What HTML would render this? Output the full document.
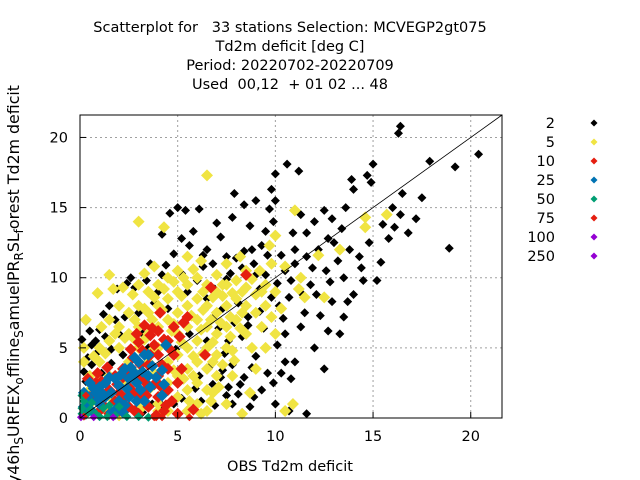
<!DOCTYPE html>
<html><head><meta charset="utf-8"><style>
html,body{margin:0;padding:0;background:#fff;}
svg{display:block;font-family:"DejaVu Sans","Liberation Sans",sans-serif;}
</style></head><body>
<svg id="chart" width="640" height="480" viewBox="0 0 640 480">
<g font-size="14.5" text-anchor="middle" fill="#000" style="white-space:pre">
<text x="290" y="32" xml:space="preserve">Scatterplot for   33 stations Selection: MCVEGP2gt075</text>
<text x="290" y="51">Td2m deficit [deg C]</text>
<text x="290" y="70">Period: 20220702-20220709</text>
<text x="290" y="89" xml:space="preserve">Used  00,12  + 01 02 ... 48</text>
</g>
<g id="grid"></g>
<g id="points"></g>
<g id="axes"></g>
<text x="290" y="471" font-size="14.5" text-anchor="middle">OBS Td2m deficit</text>
<text transform="translate(19,85) rotate(-90)" font-size="15.8" text-anchor="end">y46h<tspan font-size="12" dy="4">S</tspan><tspan dy="-4">URFEX</tspan><tspan font-size="12" dy="4">o</tspan><tspan dy="-4">ffline</tspan><tspan font-size="12" dy="4">S</tspan><tspan dy="-4">amuelPR</tspan><tspan font-size="12" dy="4">R</tspan><tspan dy="-4">SL</tspan><tspan font-size="12" dy="4">f</tspan><tspan dy="-4">orest Td2m deficit</tspan></text>
<g id="legend"></g>
</svg>
<script>
const xTicks=[0,5,10,15,20];
const yTicks=[0,5,10,15,20];
const seriesLabels=["2","5","10","25","50","75","100","250"];
const seriesColors=["#000000","#f0e442","#e51e10","#0072b2","#009e73","#e51e10","#9400d3","#9400d3"];
const s2=[[16.4,20.8],[16.3,20.3],[20.4,18.8],[17.9,18.3],[19.2,17.9],[18.9,12.1],[15.2,9.8],[16,15],[16.5,16],[14.9,16.8],[14.7,17.3],[15,18.1],[13.9,17],[14,16.3],[13.6,15],[12.5,14.8],[12,14],[12.9,14.2],[13.4,13.5],[13,12.5],[12.2,12],[11.6,11.5],[11,11],[10.5,10.5],[10,17.4],[10.6,18.1],[11.2,17.6],[9.8,16.3],[10,15.5],[9.7,14.9],[9,15.5],[8.4,15.2],[7.9,16],[7.8,14.3],[9.9,14],[11.3,14.5],[11.6,13.2],[10.9,13.2],[11,12],[10.3,11.6],[9.3,12.3],[8.8,12],[8.4,11.9],[7.2,12.9],[7,13.9],[6.1,14.9],[5.4,14.8],[5,15],[4.6,14.6],[4.2,13.1],[5.6,12.3],[7.5,11.5],[8,11.4],[6.8,11],[6.3,10.8],[5.5,11.5],[4.8,11.7],[4.4,10.9],[3.4,9.8],[2.6,10],[2.4,9.6],[2.8,9.3],[1.9,9.2],[1.5,8],[1.2,7.4],[1.8,7],[2.3,7.2],[1,6.3],[0.8,5.5],[0.6,5.2],[0.3,6.9],[0.6,3.8],[1.6,3.9],[2.2,4.5],[3.2,6],[3.8,8.2],[4.5,7.8],[5.5,9],[6.5,8.5],[7.3,7.8],[8.1,8.2],[7.9,6.8],[8.3,5.8],[7.4,4.6],[6.6,3.6],[6.1,3],[5.9,2.1],[5.2,1.4],[6.2,1.2],[4.8,1],[7.5,1.6],[8.7,0.8],[10.7,0.5],[11.6,0.3],[10,1],[9.9,2.5],[10.5,4],[10.1,5.2],[10.4,7.1],[10.2,8],[12.3,7.3],[11.3,6.5],[11,4],[12,5],[12.5,3.5],[13.3,6],[13.7,8.3],[14.5,9.8],[14.3,11.5],[15.4,11.1],[16.8,13.2],[14,8.8],[12.8,9.7],[11.4,8.8],[9.2,9.2],[9,10.2],[8.6,7.2],[9.4,6.4],[9,4.4],[8.2,2.4],[7.2,2.9],[6.5,5.5],[5.6,6],[4.9,4.9],[3.7,1],[2.9,0.6],[3.2,0.4],[4.2,0.9],[5.5,0.4],[3,2],[0.2,3.3],[0.1,5.6],[0.4,4.3],[0.9,4.7],[1.3,5.8],[2,6],[3,7.5],[4,9],[4.5,7],[3.5,5],[7.7,10.3],[8.9,11],[12.6,10.5],[13.2,11.2],[14.8,12.5],[15.5,13.8],[16.4,14.5],[17.2,14.2],[11.8,9.5],[10.8,9.8],[9.6,11.6],[6,9.8],[6.9,9.2],[4.2,10.2],[5.2,10.3],[9.6,3.2],[8.9,1.5],[6.8,2.4],[7.8,3.8],[10.8,2.8],[12.9,8.3],[13.5,10],[11.9,10.7],[7.8,1],[8.1,1.7],[8.4,2.9],[7.6,2.2],[6.9,0.9],[7.3,3.4],[8.8,3.6],[9.3,2],[6.2,6.3],[6.8,7.1],[7.1,6.4],[7.6,5.5],[8.6,6.6],[9.2,7.6],[9.8,8.6],[10.1,9.6],[10.7,8.6],[10.5,6],[10.3,3.2],[11.5,7.5],[12.1,8.8],[12.7,12.8],[13.8,12],[9.5,13.3],[8.7,13.7],[6.5,12],[5.8,13.3],[3.6,11],[1.6,4.9],[0.5,6.2],[1.1,3.2],[0.3,2.6],[6.3,11.6],[7.5,9.9],[8.3,10.7],[9.5,10.2],[5.2,12.8],[12.7,6.2],[13.5,7.2],[14.4,10.7],[16.1,13.6],[15.8,12.8],[17.5,15.7]];
const s5=[[0.5,1],[0.5,2],[0.5,3],[0.2,4],[1,2.5],[1,4],[1,5],[1.5,3],[1.5,5.5],[1.5,7],[2,1],[2,3],[2,5],[2,6.5],[2,8],[2.5,2],[2.5,4],[2.5,6],[2.5,7.5],[3,3],[3,5],[3,6.5],[3,8],[3,9.5],[3.5,2],[3.5,4],[3.5,6],[3.5,7.5],[3.5,9],[4,1],[4,3],[4,5],[4,6.5],[4,8],[4,9.5],[4.5,0.5],[4.5,2.5],[4.5,4],[4.5,5.5],[4.5,7],[4.5,8.5],[4.5,10],[5,1.5],[5,3],[5,4.5],[5,6],[5,7.5],[5,9],[5,10.5],[5.5,0.5],[5.5,2],[5.5,3.5],[5.5,5],[5.5,6.5],[5.5,8],[5.5,9.5],[6,1],[6,2.5],[6,4],[6,5.5],[6,7],[6,8.5],[6,10],[6.5,2],[6.5,3.5],[6.5,5],[6.5,6.5],[6.5,8],[6.5,9.5],[7,3],[7,4.5],[7,6],[7,7.5],[7,9],[7,10.2],[7.5,5],[7.5,6.5],[7.5,8],[7.5,9.5],[8,7],[8,8.5],[8,9.8],[8.5,6],[8.5,8],[8.5,9.3],[8.5,10.5],[9,7.5],[9,8.8],[9,3.5],[9.5,8],[9.5,5],[9.5,9.5],[10,9],[10,6],[7.5,1],[8.3,0.3],[6.5,0.5],[3,14],[6.5,17.3],[4.3,13.6],[10,13],[11,14.8],[9.7,12.3],[12.2,11.6],[13.3,12],[14.6,14.3],[15.7,14.5],[14.6,13.6],[12.5,8.6],[10.5,10.8],[11.3,10],[0.9,8.9],[1.5,10.2],[1.7,9.2],[2.7,8.8],[3.3,10.3],[7.8,3],[8.7,1.8],[7.9,4.1],[6.7,1.2],[10.5,0.5],[10.9,1],[1.1,6.5],[0.3,7],[2.2,9.3],[3.8,10.8],[5.5,11.5],[6.2,11.2],[7.5,11],[8.2,11.5],[9.2,10.5],[9.8,11],[8.8,5],[9.3,6.5],[10.3,7.8],[11.5,8.6],[11.2,9.2],[4,0.5],[3.2,0.8],[2,0.2],[1.3,0.6],[0.3,0.5],[6.8,1.8],[5.2,8.7],[6.3,7.7],[7.3,8.7],[8.3,7.5],[4.8,6.7],[3.7,7],[2.8,5.6],[5.8,4.4],[6.8,5.4],[7.7,7.2],[0.2,5],[0.7,4.4],[1.3,4.6],[1.8,6],[2.3,5.7],[2.8,7],[3.3,7.8],[3.8,8.6],[4.3,9.2],[4.8,9.7],[5.3,10],[5.8,10.6],[6.3,9],[6.8,8.6],[7.3,9.5],[7.8,8.9],[8.3,9],[8.8,9.9],[9.3,9],[9.8,7.2],[4.2,7.7],[4.7,6.2],[5.2,5.4],[5.7,7.3],[6.2,6.3],[6.7,7],[7.2,6.8],[7.7,5.8],[8.2,6.4],[5.3,2.8],[5.8,3],[6.3,4.6],[6.8,4],[7.3,3.8],[7.8,4.8],[4.3,1.8],[4.8,3.4],[3.8,3.2],[2.2,2.4],[1.7,1.3],[3.3,5.6],[3.7,4.8],[2.7,3.4],[6.2,0.3],[7.1,2.2],[5.6,1.2]];
const s10=[[0.3,0.5],[0.5,1.5],[0.8,2.5],[1,0.5],[1.2,1.5],[1.5,0.3],[1.5,2],[1.8,3],[2,0.5],[2,1.8],[2.2,3.5],[2.5,0.8],[2.5,2.2],[2.7,4.3],[3,0.3],[3,1.5],[3,3],[3.2,4.8],[3.5,0.8],[3.5,2.2],[3.5,3.8],[3.8,5.2],[4,1.5],[4,3],[4,4.5],[4,6.2],[4.3,0.5],[4.5,2],[4.5,3.5],[4.5,5.5],[4.8,4.5],[4.8,6.5],[5,2.5],[5,0.3],[5.3,6.8],[5.5,7.2],[5.2,3.5],[3.6,5.9],[2.9,6],[3.3,6.6],[6.4,4.5],[6.7,9.3],[8.5,10.2],[4.1,7.5],[5.8,0.6],[1.2,0.9],[1.8,1.2],[2.3,1.4],[2.7,1.9],[3.3,2.6],[3.8,2.4],[4.2,3.8],[4.6,4.9],[2.5,3.1],[1.9,2.4],[0.9,3.2],[1.4,3.6],[3.1,3.8],[3.6,4.5],[4.3,5.6],[5.1,5.8],[3.9,0.2],[2.8,0.5],[4.7,1.2],[2.2,2.9],[0.4,2.8],[1.1,2.6],[3.4,1.6],[4.1,2.3],[4.4,0.9],[2.6,4.9],[3.0,5.4],[3.7,6.4]];
const s25=[[0.2,0.8],[0.2,1.8],[0.5,1.2],[0.5,2.5],[0.8,1.8],[1,1],[1,2.2],[1.3,1.5],[1.3,2.5],[1.6,1.8],[1.8,2.8],[2,1.2],[2,2.3],[2.3,3.5],[2.5,1.5],[2.5,2.8],[2.8,3.2],[2.9,1.2],[3,4],[3.1,2],[3.5,3],[3.5,4.5],[3.3,1.2],[4.2,3.4],[4.3,2.4],[4.2,1.6],[4.4,5.2],[1.6,0.4],[0.6,0.5],[2.2,0.4],[0.4,1.5],[0.9,1.3],[1.5,2.9],[2.1,3.1],[2.6,3.6],[3.2,3.3],[3.7,3.7],[2.4,2.1],[0.7,2.1],[1.1,1.8],[2.9,2.5],[3.3,4.5],[2.8,4.3],[3.9,2.9],[3.6,2.2],[2.3,0.9],[1.9,0.7]];
const s50=[[0.1,0.3],[0.3,0.2],[0.2,1.2],[0.5,0.6],[0.8,0.3],[1,0.1],[1.4,0.1],[1.8,0.2],[2.4,0.1],[3,0.1],[3.5,0.05],[0.1,0.7],[2,0.8],[1.2,0.7],[0.1,1.6],[0.6,1.1],[1.5,0.9]];
const s75=[[0.2,0.1],[3.8,0.05],[4.2,0.05],[5.6,0.05],[0.3,1.6]];
const s100=[[0.05,0.05],[0.7,0.05],[1.7,0.05]];
const s250=[];
const seriesData=[s2,s5,s10,s25,s50,s75,s100,s250];
const axisMin=0, axisMax=21.6;
const L=80,R=502,T=115,B=418;
const NS="http://www.w3.org/2000/svg";
function sx(v){return L+(v-axisMin)/(axisMax-axisMin)*(R-L);}
function sy(v){return B-(v-axisMin)/(axisMax-axisMin)*(B-T);}
function mk(tag,attrs,parent){const e=document.createElementNS(NS,tag);for(const k in attrs)e.setAttribute(k,attrs[k]);parent.appendChild(e);return e;}
const grid=document.getElementById('grid'),axes=document.getElementById('axes'),pts=document.getElementById('points'),leg=document.getElementById('legend');
xTicks.forEach(t=>{const x=sx(t);
 if(t>0){const g=mk('line',{x1:x,x2:x,y1:T,y2:B,stroke:'#a0a0a0','stroke-dasharray':'2,3','stroke-width':1},grid);
 
 }
 const tk=mk('line',{x1:x,x2:x,y1:B,y2:B-6,stroke:'#000'},axes);
 
 
 const lb=mk('text',{x:x,y:B+23,'font-size':14.5,'text-anchor':'middle'},axes);lb.textContent=t;
 
 
});
yTicks.forEach(t=>{const y=sy(t);
 if(t>0){const g=mk('line',{x1:L,x2:R,y1:y,y2:y,stroke:'#a0a0a0','stroke-dasharray':'2,3','stroke-width':1},grid);
 
 }
 const tk=mk('line',{x1:L,x2:L+6,y1:y,y2:y,stroke:'#000'},axes);
 
 
 const lb=mk('text',{x:L-12,y:y+5,'font-size':14.5,'text-anchor':'end'},axes);lb.textContent=t;
 
 
});
function diamond(cx,cy,r,color,parent){return mk('polygon',{points:`${cx},${cy-r} ${cx+r},${cy} ${cx},${cy+r} ${cx-r},${cy}`,fill:color},parent);}
const sizes=[4.5,6,6,6,4.5,4,4,4];
seriesData.forEach((arr,i)=>{arr.forEach(p=>{
 const d=diamond(sx(p[0]),sy(p[1]),sizes[i],seriesColors[i],pts);
 
 
});});
const diag=mk('line',{x1:sx(0),y1:sy(0),x2:sx(axisMax),y2:sy(axisMax),stroke:'#000','stroke-width':0.8},axes);


const frame=mk('rect',{x:L,y:T,width:R-L,height:B-T,fill:'none',stroke:'#000','stroke-width':1},axes);


seriesLabels.forEach((lab,i)=>{const y=123+i*19;
 const t=mk('text',{x:555,y:y+5,'font-size':14.5,'text-anchor':'end'},leg);t.textContent=lab;
 
 
 const d=diamond(594,y,3.5,seriesColors[i],leg);
 
 
});
</script>
</body></html>
